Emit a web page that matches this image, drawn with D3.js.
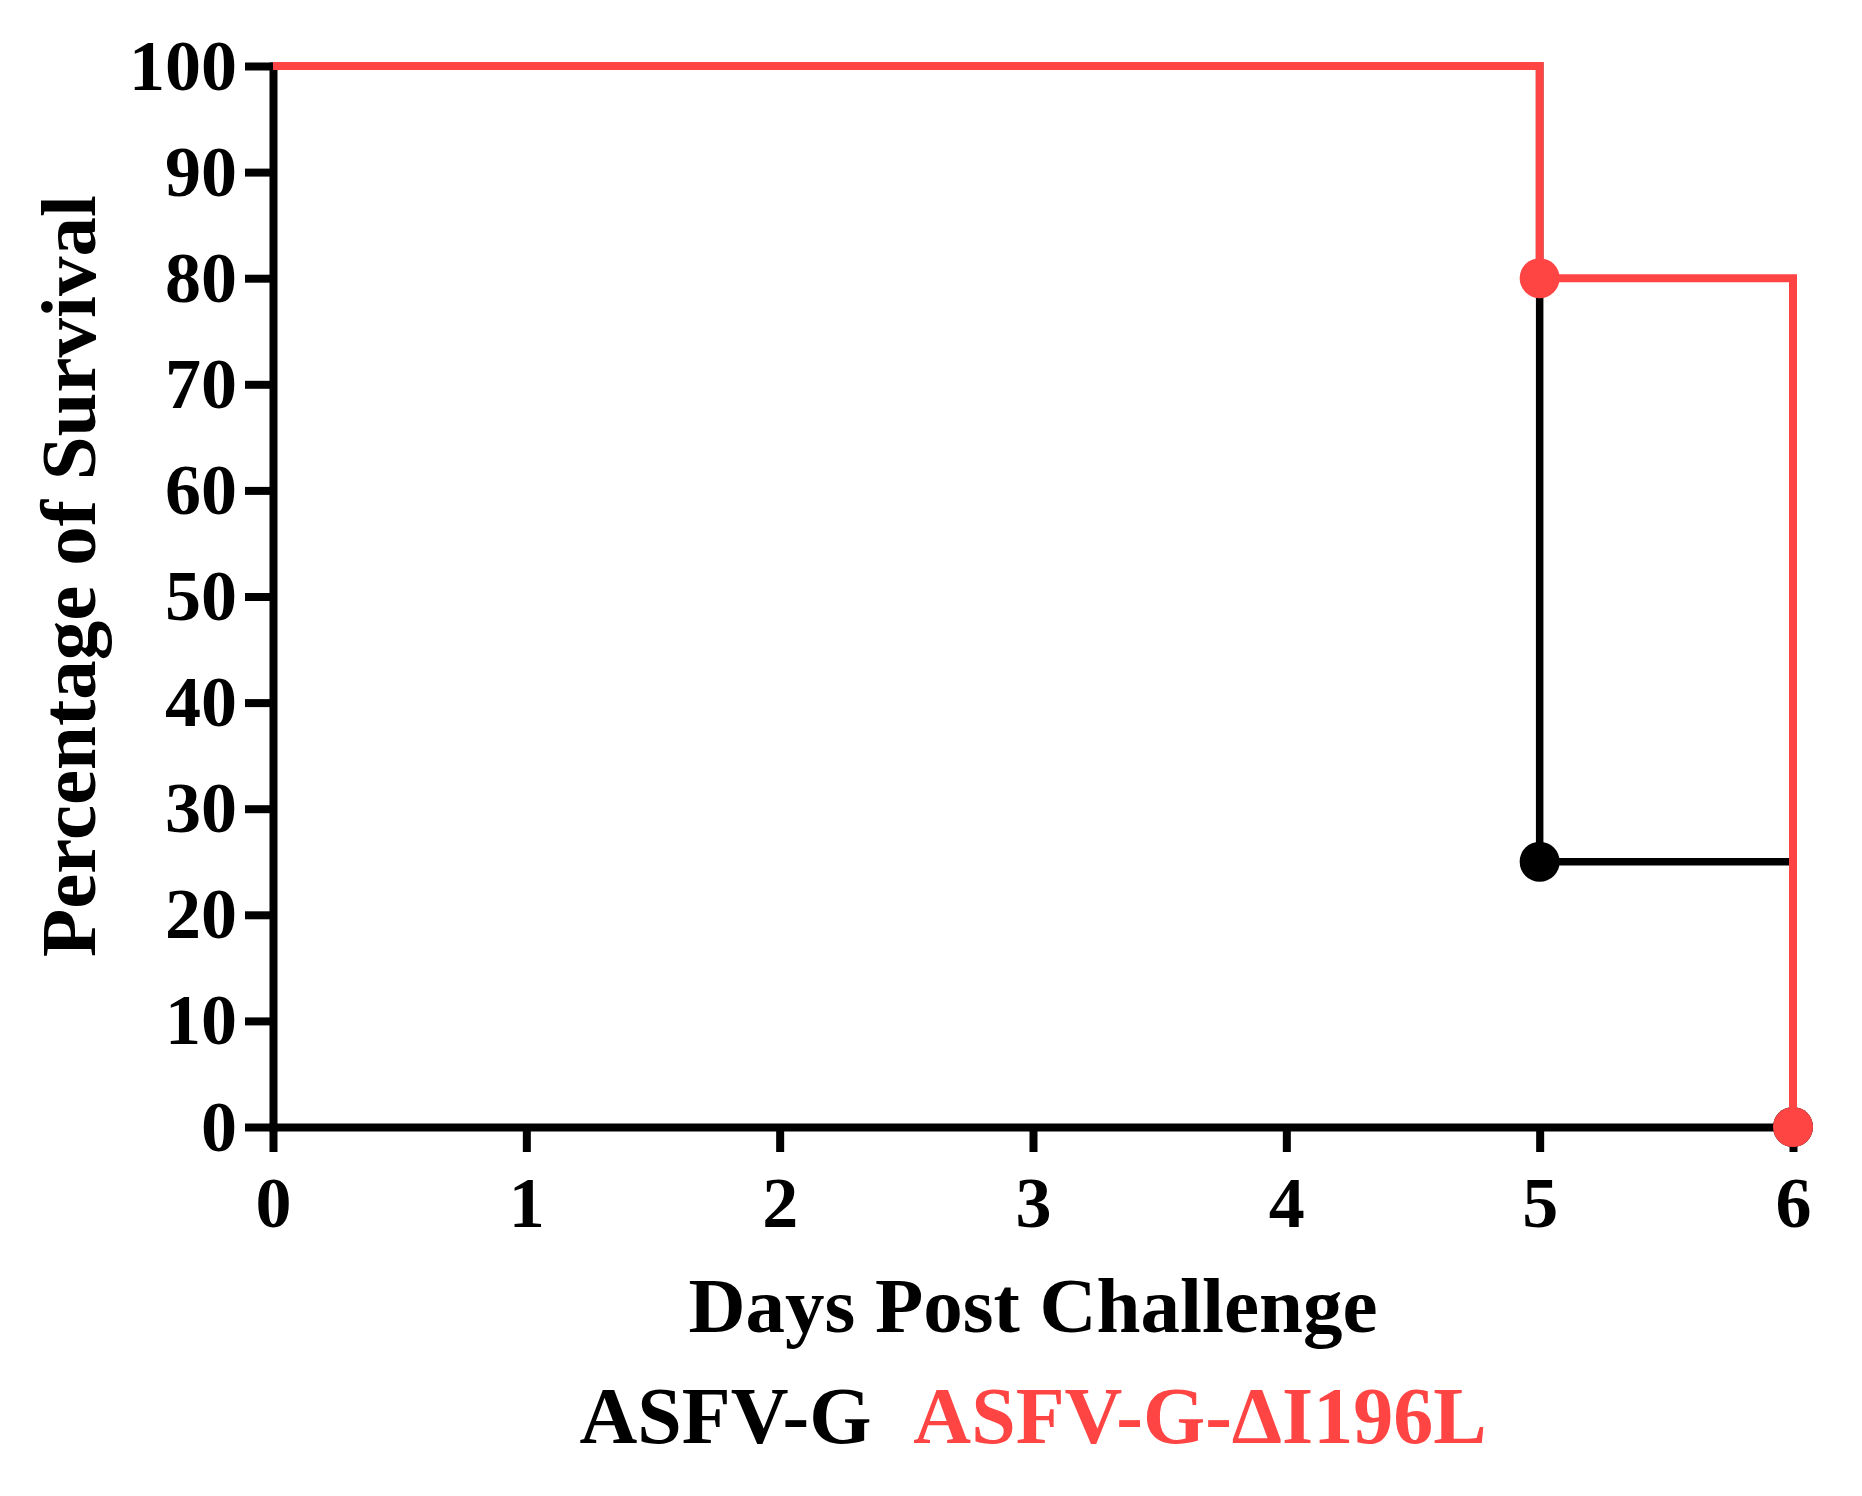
<!DOCTYPE html>
<html>
<head>
<meta charset="utf-8">
<script src="https://cdn.jsdelivr.net/npm/d3@7"></script>
<style>
  body { margin: 0; background: #fff; }
  text { font-family: "Liberation Serif", "Times New Roman", serif; font-weight: bold; }
</style>
</head>
<body>
<svg id="chart" width="1862" height="1496"></svg>
<script>
// Data
const days = [0, 5, 6];
const survivalASFVG = [100, 25, 0];
const survivalDelta = [100, 80, 0];
const eventDaysASFVG = [5, 6];
const eventValsASFVG = [25, 0];
const eventDaysDelta = [5, 6];
const eventValsDelta = [80, 0];
const xTicks = [0, 1, 2, 3, 4, 5, 6];
const yTicks = [0, 10, 20, 30, 40, 50, 60, 70, 80, 90, 100];
const seriesNames = ["ASFV-G", "ASFV-G-ΔI196L"];
const xTitle = "Days Post Challenge";
const yTitle = "Percentage of Survival";

const BLACK = "#000000";
const RED = "#FF4444";

const svg = d3.select("#chart");
svg.append("rect").attr("width", 1862).attr("height", 1496).attr("fill", "#fff");

const x = d3.scaleLinear().domain([0, 6]).range([273, 1793]);
const y = d3.scaleLinear().domain([0, 100]).range([1127, 66]);

// Axes
const yAxis = d3.axisLeft(y).tickValues(yTicks).tickFormat(d3.format("d")).tickSize(28).tickSizeOuter(0).tickPadding(8);
const xAxis = d3.axisBottom(x).tickValues(xTicks).tickFormat(d3.format("d")).tickSize(25).tickSizeOuter(0).tickPadding(24);

const gy = svg.append("g").attr("transform", `translate(${x(0)},0)`).call(yAxis);
const gx = svg.append("g").attr("transform", `translate(0,${y(0)})`).call(xAxis);

[gx, gy].forEach(g => {
  g.selectAll("path.domain").attr("stroke", BLACK).attr("stroke-width", 8).attr("stroke-linecap", "square");
  g.selectAll(".tick line").attr("stroke", BLACK).attr("stroke-width", 8);
  g.selectAll(".tick text").attr("fill", BLACK).style("font-size", "72px")
    .style("font-family", '"Liberation Serif", "Times New Roman", serif').style("font-weight", "bold");
});

// Survival step lines
const line = d3.line().x(d => x(d[0])).y(d => y(d[1])).curve(d3.curveStepAfter);

svg.append("path")
  .datum(days.map((d, i) => [d, survivalASFVG[i]]))
  .attr("d", line).attr("fill", "none").attr("stroke", BLACK).attr("stroke-width", 7.5);

svg.append("g").selectAll("circle")
  .data(eventDaysASFVG.map((d, i) => [d, eventValsASFVG[i]]))
  .join("circle").attr("cx", d => x(d[0])).attr("cy", d => y(d[1])).attr("r", 20).attr("fill", BLACK);

svg.append("path")
  .datum(days.map((d, i) => [d, survivalDelta[i]]))
  .attr("d", line).attr("fill", "none").attr("stroke", RED).attr("stroke-width", 8);

svg.append("g").selectAll("circle")
  .data(eventDaysDelta.map((d, i) => [d, eventValsDelta[i]]))
  .join("circle").attr("cx", d => x(d[0])).attr("cy", d => y(d[1])).attr("r", 20).attr("fill", RED);

// Axis titles
svg.append("text")
  .attr("x", (x(0) + x(6)) / 2).attr("y", 1332)
  .attr("text-anchor", "middle").style("font-size", "79px").attr("fill", BLACK)
  .text(xTitle);

svg.append("text")
  .attr("transform", "translate(95,576) rotate(-90)")
  .attr("text-anchor", "middle").style("font-size", "79px").attr("fill", BLACK)
  .text(yTitle);

// Legend
const leg = svg.append("text")
  .attr("x", (x(0) + x(6)) / 2).attr("y", 1443)
  .attr("text-anchor", "middle").style("font-size", "80px");
leg.append("tspan").attr("fill", BLACK).text(seriesNames[0]);
leg.append("tspan").attr("fill", RED).attr("dx", 42).text(seriesNames[1]);
</script>
</body>
</html>
